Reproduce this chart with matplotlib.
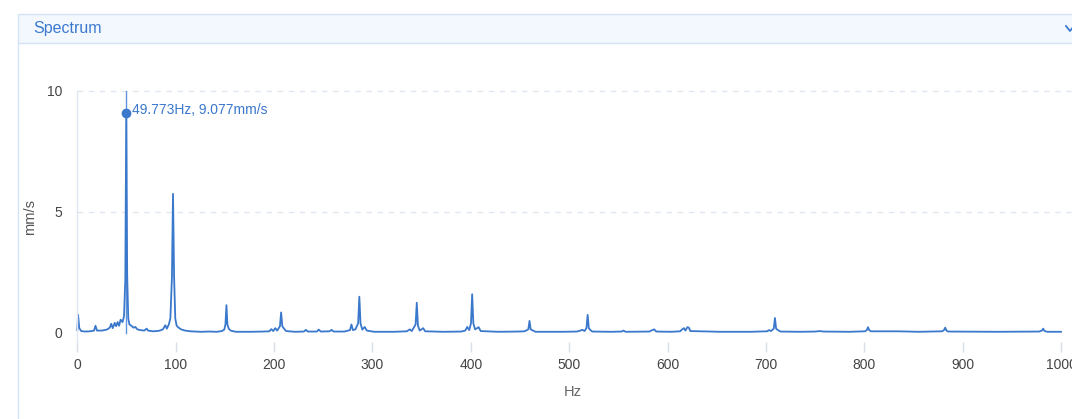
import matplotlib
matplotlib.use("Agg")
import matplotlib.pyplot as plt
from matplotlib.patches import Rectangle
from matplotlib.lines import Line2D

plt.rcParams['font.family'] = ['Liberation Sans', 'DejaVu Sans']

# Velocity spectrum vertices: frequency (Hz) and amplitude (mm/s)
freq_hz = [
    0, 0.8, 2, 4, 8, 13, 17, 18.5, 20, 25, 30, 33, 34.5, 36, 38, 39.5, 41, 42.5, 44, 46,
    47.5, 48.8, 49.773, 50.7, 51.8, 53, 55, 57, 59, 61, 64, 68, 70.5, 72, 77, 83, 87,
    89.5, 91, 93, 94.6, 96.2, 97.3, 98.4, 99.6, 101, 103, 105.5, 109.5, 115, 125, 135,
    142, 146.9, 149.4, 150.6, 151.6, 152.6, 153.9, 155.9, 161, 176, 189, 195.2, 197.2,
    199.2, 201.2, 203.2, 206, 207.2, 208.4, 210.3, 212.3, 221.3, 230.4, 232.4, 234.4,
    243.5, 245.5, 247.5, 256.5, 258.5, 260.6, 271.6, 277.2, 278.7, 280.2, 282.7, 285.5,
    286.7, 287.9, 289.7, 292.2, 294.3, 301.8, 322, 335, 338, 340, 343.9, 345.1, 346.3,
    348.1, 351.6, 353.6, 372.2, 390.3, 394.4, 396.4, 398.4, 400.2, 401.4, 402.6, 404.4,
    408, 410, 427.6, 447.7, 454.7, 458.5, 459.7, 460.9, 463.3, 465.8, 493, 508, 513.6,
    515.6, 517.6, 518.8, 520, 521.6, 523.6, 543.2, 553.3, 555.3, 557.3, 581.5, 584.5,
    586.5, 588.5, 603.6, 612.7, 615.2, 616.7, 618.2, 620.2, 621.7, 623.2, 653.9, 684.1,
    701.2, 703.2, 705.2, 708, 709.2, 710.4, 712.2, 714.8, 734.4, 750.5, 754.5, 758.5,
    784.7, 800.8, 802.6, 803.8, 805, 806.8, 834, 855.1, 879.2, 881, 882.3, 883.5, 885.3,
    935.6, 977.8, 980.6, 981.9, 983.1, 985.9, 1000,
]
amp_mms = [
    0.12, 0.75, 0.2, 0.08, 0.06, 0.07, 0.1, 0.3, 0.1, 0.1, 0.14, 0.22, 0.38, 0.2, 0.42,
    0.28, 0.45, 0.3, 0.55, 0.45, 0.7, 2.2, 9.077, 2.4, 0.6, 0.35, 0.3, 0.22, 0.25, 0.15,
    0.12, 0.1, 0.18, 0.1, 0.07, 0.09, 0.15, 0.32, 0.18, 0.35, 0.6, 2.3, 5.75, 2.3, 0.6,
    0.3, 0.22, 0.15, 0.1, 0.07, 0.05, 0.06, 0.05, 0.08, 0.14, 0.35, 1.15, 0.35, 0.18,
    0.1, 0.05, 0.05, 0.06, 0.07, 0.16, 0.08, 0.2, 0.1, 0.28, 0.85, 0.28, 0.17, 0.08,
    0.05, 0.06, 0.13, 0.06, 0.06, 0.14, 0.06, 0.07, 0.13, 0.06, 0.06, 0.12, 0.35, 0.12,
    0.15, 0.4, 1.5, 0.4, 0.14, 0.25, 0.1, 0.05, 0.05, 0.07, 0.15, 0.08, 0.35, 1.25, 0.3,
    0.1, 0.2, 0.07, 0.05, 0.06, 0.1, 0.25, 0.12, 0.4, 1.6, 0.4, 0.15, 0.24, 0.08, 0.05,
    0.06, 0.07, 0.15, 0.5, 0.15, 0.1, 0.05, 0.05, 0.06, 0.13, 0.08, 0.2, 0.75, 0.2, 0.12,
    0.06, 0.05, 0.06, 0.1, 0.05, 0.06, 0.12, 0.15, 0.06, 0.05, 0.07, 0.16, 0.2, 0.1,
    0.24, 0.22, 0.08, 0.05, 0.05, 0.07, 0.12, 0.08, 0.18, 0.62, 0.18, 0.12, 0.06, 0.05,
    0.06, 0.08, 0.06, 0.05, 0.07, 0.12, 0.24, 0.12, 0.07, 0.07, 0.05, 0.07, 0.12, 0.22,
    0.1, 0.06, 0.05, 0.06, 0.1, 0.18, 0.09, 0.05, 0.05,
]

peak_hz = 49.773
peak_mms = 9.077
peak_label = f"{peak_hz:.3f}Hz, {peak_mms:.3f}mm/s"

x_ticks = [0, 100, 200, 300, 400, 500, 600, 700, 800, 900, 1000]
y_ticks = [0, 5, 10]

W, H = 1072, 419
BLUE = '#3a78cc'
GRID = '#e0e6f1'


def fx(px):
    return px / W


def fy(py):
    return 1 - py / H


fig = plt.figure(figsize=(W / 100, H / 100), dpi=100)
fig.patch.set_facecolor('white')

# Panel header bar and border
fig.add_artist(Rectangle((fx(17.5), fy(43.5)), fx(1100) - fx(17.5), fy(14) - fy(43.5),
                         transform=fig.transFigure, facecolor='#f3f8fe',
                         edgecolor='#d5e3f5', linewidth=1.0, zorder=0))
fig.add_artist(Line2D([fx(17.5), fx(17.5)], [fy(43.5), fy(H + 5)],
                      transform=fig.transFigure, color='#d5e3f5', linewidth=1.0))
fig.text(fx(33), fy(29), "Spectrum", color='#3b79cf', fontsize=11.5,
         ha='left', va='center')
# Collapse chevron
fig.add_artist(Line2D([fx(1066), fx(1070), fx(1074)], [fy(26), fy(31), fy(26)],
                      transform=fig.transFigure, color='#3b79cf', linewidth=1.3))

# Chart area
ax = fig.add_axes([fx(77.3), fy(342), fx(1061) - fx(77.3), fy(91) - fy(342)])
ax.set_xlim(0, 1000)
ax.set_ylim(-0.372, 10)

for side in ('top', 'right', 'bottom'):
    ax.spines[side].set_visible(False)
ax.spines['left'].set_color(GRID)
ax.spines['left'].set_linewidth(1.0)

ax.set_xticks(x_ticks)
ax.set_xticklabels([str(t) for t in x_ticks])
ax.tick_params(axis='x', length=7.5, width=1.0, color='#d9dde4', pad=4,
               labelsize=10, labelcolor='#444444')
ax.set_yticks(y_ticks)
ax.set_yticklabels([str(t) for t in y_ticks])
ax.tick_params(axis='y', length=0, pad=11, labelsize=10, labelcolor='#444444')

for yv in y_ticks[1:]:
    ax.plot([0, 1010], [yv, yv], color=GRID, linewidth=1.0, linestyle=(0, (4, 4)),
            zorder=0, clip_on=False)

# Pointer line at the fundamental
ax.plot([peak_hz, peak_hz], [0, 10], color='#5f93dc', linewidth=1.0, zorder=1)

ax.plot(freq_hz, amp_mms, color=BLUE, linewidth=1.3, zorder=2, clip_on=False)
ax.plot([peak_hz], [peak_mms], 'o', color=BLUE, markersize=6, zorder=3)
ax.annotate(peak_label, xy=(peak_hz, peak_mms), xytext=(4, 2.5),
            textcoords='offset points', ha='left', va='center',
            color=BLUE, fontsize=10)

fig.text(fx(30), fy(217), "mm/s", rotation=90, ha='center', va='center',
         fontsize=10.5, color='#555555')
fig.text(fx(573), fy(392), "Hz", ha='center', va='center',
         fontsize=10.5, color='#666666')

fig.savefig('out.png', dpi=100, facecolor='white')
